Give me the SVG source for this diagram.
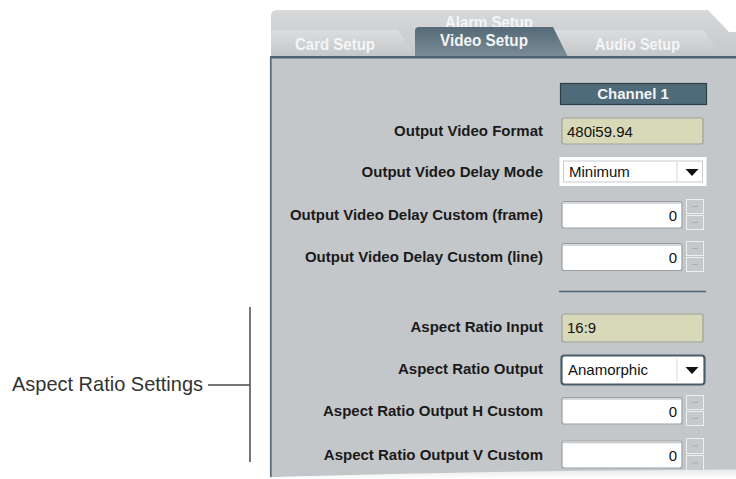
<svg xmlns="http://www.w3.org/2000/svg" width="736" height="479" viewBox="0 0 736 479">
  <defs>
    <linearGradient id="gBack" x1="0" y1="0" x2="0" y2="1">
      <stop offset="0" stop-color="#d6d8da"/>
      <stop offset="1" stop-color="#c6c9cb"/>
    </linearGradient>
    <linearGradient id="gTab" x1="0" y1="0" x2="0" y2="1">
      <stop offset="0" stop-color="#dcdddf"/>
      <stop offset="1" stop-color="#c3c6c8"/>
    </linearGradient>
    <linearGradient id="gActive" x1="0" y1="0" x2="0" y2="1">
      <stop offset="0" stop-color="#546a76"/>
      <stop offset="1" stop-color="#7c8d97"/>
    </linearGradient>
    <linearGradient id="gFoot" x1="0" y1="0" x2="0" y2="1">
      <stop offset="0" stop-color="#ffffff" stop-opacity="0.6"/>
      <stop offset="1" stop-color="#ffffff"/>
    </linearGradient>
    <style>
      .lbl { font-family: "Liberation Sans", Arial, sans-serif; font-weight: bold; font-size: 15px; fill: #1a1a1a; text-anchor: end; }
      .tab { font-family: "Liberation Sans", Arial, sans-serif; font-weight: bold; font-size: 16.5px; fill: #f4f5f6; }
      .val { font-family: "Liberation Sans", Arial, sans-serif; font-size: 15px; fill: #111; }
      .num { font-family: "Liberation Sans", Arial, sans-serif; font-size: 15px; fill: #111; text-anchor: end; }
      .field { fill: #ffffff; stroke: #9a9ea2; stroke-width: 1.2; }
      .ro { fill: #d7d9b8; stroke: #9ea296; stroke-width: 1.2; }
      .spin { fill: #c6c9cc; stroke: #eceef0; stroke-width: 1; }
      .spinmark { stroke: #a9adb1; stroke-width: 1; }
      .ann { stroke: #4a4a4a; stroke-width: 1.5; fill: none; }
    </style>
  </defs>

  <!-- tab strip -->
  <g id="tabs">
    <path d="M271,57 L271,16 Q271,10 277,10 L708,10 L729,32 L736,32 L736,57 Z" fill="url(#gBack)"/>
    <text class="tab" x="445" y="28" textLength="88" lengthAdjust="spacingAndGlyphs">Alarm Setup</text>
    <path d="M271,57 L271,34 Q271,30 275,30 L398,30 L415,54 L415,57 Z" fill="url(#gTab)"/>
    <text class="tab" x="295" y="50" textLength="80" lengthAdjust="spacingAndGlyphs">Card Setup</text>
    <path d="M555,57 L555,30 L703,30 L720,54 L720,57 Z" fill="url(#gTab)"/>
    <text class="tab" x="595" y="50" textLength="85" lengthAdjust="spacingAndGlyphs">Audio Setup</text>
    <path d="M415,57 L415,31 Q415,27 419,27 L553,27 L568,57 Z" fill="url(#gActive)"/>
    <text class="tab" x="440" y="46" textLength="88" lengthAdjust="spacingAndGlyphs">Video Setup</text>
  </g>

  <!-- panel body -->
  <g id="panel">
    <rect x="270" y="57" width="466" height="422" fill="#c4c7ca"/>
    <rect x="270" y="56" width="466" height="2.5" fill="#4d626e"/>
    <line x1="270.8" y1="57" x2="270.8" y2="477" stroke="#5d6e79" stroke-width="1.8"/>
    <path d="M262,479 L262,477.5 Q470,471 736,469.5 L736,479 Z" fill="url(#gFoot)"/>
  </g>

  <!-- channel header -->
  <g id="channel-header">
    <rect x="560.5" y="83.5" width="146" height="21" fill="#4f6a78" stroke="#2f3f48" stroke-width="1.2"/>
    <text x="633" y="99" font-family="Liberation Sans, Arial, sans-serif" font-weight="bold" font-size="15" fill="#f2f4f5" text-anchor="middle">Channel 1</text>
  </g>

  <g id="output-video-format">
    <text class="lbl" x="543" y="136">Output Video Format</text>
    <rect class="ro" x="562" y="118" width="141" height="26" rx="2"/>
    <text class="val" x="567" y="137">480i59.94</text>
  </g>

  <g id="output-video-delay-mode">
    <text class="lbl" x="543" y="177">Output Video Delay Mode</text>
    <rect x="560.5" y="158" width="145" height="27" fill="#ffffff" stroke="#ffffff" stroke-width="2"/>
    <rect x="563.5" y="161" width="139" height="21" fill="#ffffff" stroke="#c9cbcd" stroke-width="1"/>
    <line x1="677" y1="162" x2="677" y2="181" stroke="#d4d6d8" stroke-width="1"/>
    <path d="M685.5,169 L698.5,169 L692,176 Z" fill="#111"/>
    <text class="val" x="569" y="177">Minimum</text>
  </g>

  <g id="delay-custom-frame">
    <text class="lbl" x="543" y="220">Output Video Delay Custom (frame)</text>
    <rect class="field" x="562" y="201.5" width="120" height="26.5" rx="2"/>
    <line x1="563" y1="203" x2="681" y2="203" stroke="#c8cacc" stroke-width="1.5"/>
    <text class="num" x="677" y="221">0</text>
    <rect class="spin" x="686.5" y="199.5" width="17" height="14"/>
    <rect class="spin" x="686.5" y="215.5" width="17" height="14"/>
    <line class="spinmark" x1="692" y1="206.5" x2="698" y2="206.5"/>
    <line class="spinmark" x1="692" y1="222.5" x2="698" y2="222.5"/>
  </g>

  <g id="delay-custom-line">
    <text class="lbl" x="543" y="262">Output Video Delay Custom (line)</text>
    <rect class="field" x="562" y="243.5" width="120" height="27" rx="2"/>
    <line x1="563" y1="245" x2="681" y2="245" stroke="#c8cacc" stroke-width="1.5"/>
    <text class="num" x="677" y="263">0</text>
    <rect class="spin" x="686.5" y="241.5" width="17" height="14"/>
    <rect class="spin" x="686.5" y="257.5" width="17" height="14"/>
    <line class="spinmark" x1="692" y1="248.5" x2="698" y2="248.5"/>
    <line class="spinmark" x1="692" y1="264.5" x2="698" y2="264.5"/>
  </g>

  <line x1="559" y1="291.5" x2="706" y2="291.5" stroke="#4e6470" stroke-width="1.3"/>

  <g id="aspect-ratio-input">
    <text class="lbl" x="543" y="332">Aspect Ratio Input</text>
    <rect class="ro" x="562" y="314" width="141" height="28" rx="2"/>
    <text class="val" x="567" y="333">16:9</text>
  </g>

  <g id="aspect-ratio-output">
    <text class="lbl" x="543" y="374">Aspect Ratio Output</text>
    <rect x="561.5" y="355.5" width="143" height="29" rx="3" fill="#ffffff" stroke="#4a5c68" stroke-width="2.2"/>
    <line x1="677" y1="359" x2="677" y2="381" stroke="#d4d6d8" stroke-width="1"/>
    <path d="M685.5,367 L698.5,367 L692,374 Z" fill="#111"/>
    <text class="val" x="568" y="375">Anamorphic</text>
  </g>

  <g id="aspect-ratio-h-custom">
    <text class="lbl" x="543" y="416">Aspect Ratio Output H Custom</text>
    <rect class="field" x="562" y="397.5" width="120" height="26.5" rx="2"/>
    <line x1="563" y1="399" x2="681" y2="399" stroke="#c8cacc" stroke-width="1.5"/>
    <text class="num" x="677" y="417">0</text>
    <rect class="spin" x="686.5" y="395.5" width="17" height="14"/>
    <rect class="spin" x="686.5" y="411.5" width="17" height="14"/>
    <line class="spinmark" x1="692" y1="402.5" x2="698" y2="402.5"/>
    <line class="spinmark" x1="692" y1="418.5" x2="698" y2="418.5"/>
  </g>

  <g id="aspect-ratio-v-custom">
    <text class="lbl" x="543" y="460">Aspect Ratio Output V Custom</text>
    <rect class="field" x="562" y="441" width="120" height="27" rx="2"/>
    <line x1="563" y1="442.5" x2="681" y2="442.5" stroke="#c8cacc" stroke-width="1.5"/>
    <text class="num" x="677" y="461">0</text>
    <rect class="spin" x="686.5" y="438.5" width="17" height="15"/>
    <rect class="spin" x="686.5" y="455.5" width="17" height="15"/>
    <line class="spinmark" x1="692" y1="446" x2="698" y2="446"/>
    <line class="spinmark" x1="692" y1="463" x2="698" y2="463"/>
  </g>

  <!-- bracket annotation -->
  <g id="connectors">
    <line class="ann" x1="250" y1="307" x2="250" y2="462"/>
    <line class="ann" x1="208" y1="385" x2="250" y2="385"/>
  </g>
  <g id="annotation">
    <text x="12" y="391" font-family="Liberation Sans, Arial, sans-serif" font-size="21" fill="#333333" textLength="191" lengthAdjust="spacingAndGlyphs">Aspect Ratio Settings</text>
  </g>
</svg>
